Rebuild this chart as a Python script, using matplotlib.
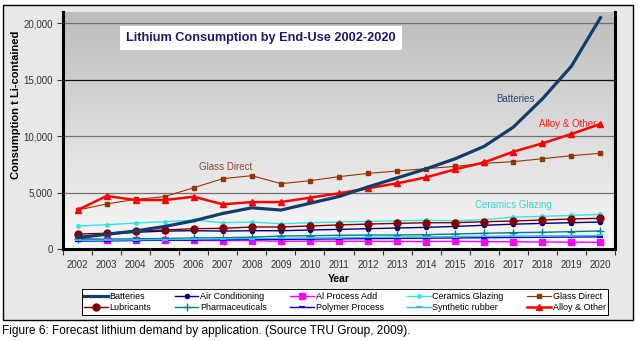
import numpy as np
import matplotlib.pyplot as plt
from matplotlib.patches import Rectangle
from matplotlib.colors import LinearSegmentedColormap
from matplotlib.ticker import FuncFormatter, FixedLocator

plt.rcParams['font.family'] = ['Liberation Sans', 'DejaVu Sans']

years = list(range(2002, 2021))

batteries = [1000, 1300, 1600, 2000, 2500, 3150, 3650, 3450, 4050, 4650,
             5500, 6300, 7100, 8000, 9100, 10800, 13300, 16200, 20500]
air_conditioning = [1100, 1300, 1480, 1590, 1620, 1590, 1620, 1620, 1680, 1740,
                    1800, 1860, 1920, 2000, 2100, 2200, 2270, 2330, 2390]
al_process = [950, 800, 800, 780, 760, 750, 750, 680, 700, 690,
              680, 670, 660, 680, 650, 640, 620, 610, 590]
ceramics = [2040, 2150, 2300, 2420, 2570, 2330, 2390, 2240, 2330, 2390,
            2450, 2500, 2550, 2500, 2600, 2830, 2890, 2980, 3070]
glass_direct = [3450, 3990, 4400, 4640, 5430, 6230, 6500, 5790, 6050, 6410,
                6700, 6910, 7120, 7320, 7590, 7740, 8000, 8270, 8480]
lubricants = [1330, 1390, 1600, 1680, 1800, 1830, 1950, 1950, 2040, 2130,
              2210, 2270, 2330, 2330, 2420, 2480, 2570, 2660, 2720]
pharmaceuticals = [860, 880, 900, 930, 980, 1000, 1050, 1150, 1180, 1210,
                   1240, 1240, 1270, 1330, 1390, 1450, 1480, 1540, 1600]
polymer = [700, 720, 750, 780, 800, 820, 850, 850, 870, 900,
           920, 940, 960, 980, 1000, 1020, 1040, 1060, 1080]
synthetic_rubber = [760, 780, 810, 840, 870, 900, 930, 950, 980, 1000,
                    1030, 1050, 1080, 1100, 1120, 1140, 1160, 1180, 1200]
alloy_other = [3450, 4700, 4340, 4340, 4630, 3960, 4160, 4160, 4550, 4930,
               5380, 5820, 6350, 7060, 7680, 8620, 9360, 10190, 11080]

fig = plt.figure(figsize=(6.38, 3.41), dpi=100)
W, H = 638, 341

# grey panel behind chart + legend
panel = Rectangle((3 / W, 1 - 320 / H), 630 / W, 315 / H,
                  transform=fig.transFigure, facecolor='#e8e8e8',
                  edgecolor='black', linewidth=1.0, zorder=-10)
fig.add_artist(panel)

ax = fig.add_axes([63 / W, 1 - 249 / H, (615 - 63) / W, (249 - 12) / H])
ax.set_xlim(2001.5, 2020.5)
ax.set_ylim(0, 21000)

# vertical grey gradient in plot area
grad = np.linspace(0, 1, 256).reshape(-1, 1)
ax.imshow(grad, extent=[2001.5, 2020.5, 0, 21000], aspect='auto',
          cmap=LinearSegmentedColormap.from_list('bg', ['#f9f9f9', '#bdbdbd']),
          origin='lower', zorder=0)

for y, c in [(5000, '#707070'), (10000, '#707070'), (15000, '#101010'), (20000, '#707070')]:
    ax.axhline(y, color=c, lw=0.9, zorder=1)

series = [
    ('Batteries', batteries, dict(color='#123d6a', lw=2.3, marker=None)),
    ('Air Conditioning', air_conditioning, dict(color='#000080', lw=1.0, marker='o', ms=3)),
    ('Al Process Add', al_process, dict(color='#ff00ff', lw=1.0, marker='s', ms=5)),
    ('Ceramics Glazing', ceramics, dict(color='#33e6e6', lw=1.0, marker='o', ms=2.5)),
    ('Glass Direct', glass_direct, dict(color='#993300', lw=0.8, marker='s', ms=3.5)),
    ('Lubricants', lubricants, dict(color='#800000', lw=1.0, marker='o', ms=5)),
    ('Pharmaceuticals', pharmaceuticals, dict(color='#008080', lw=1.0, marker='+', ms=6, mew=1.0)),
    ('Polymer Process', polymer, dict(color='#0000cc', lw=1.0, marker='_', ms=5, mew=1.5)),
    ('Synthetic rubber', synthetic_rubber, dict(color='#33bbee', lw=1.0, marker='_', ms=5, mew=1.5)),
    ('Alloy & Other', alloy_other, dict(color='#ff0000', lw=1.8, marker='^', ms=5)),
]

order = [1, 2, 3, 4, 5, 6, 7, 8, 9, 0]
handles = {}
for i in order:
    name, vals, st = series[i]
    h, = ax.plot(years, vals, label=name, zorder=3 + (i == 0) + (i == 9), **st)
    handles[name] = h

ax.spines['top'].set_visible(False)
for side in ['left', 'bottom', 'right']:
    ax.spines[side].set_linewidth(2.2)
    ax.spines[side].set_color('black')

ax.yaxis.set_major_locator(FixedLocator([0, 5000, 10000, 15000, 20000]))
ax.yaxis.set_major_formatter(FuncFormatter(lambda v, p: f'{int(v):,}'))
ax.set_xticks(years)
ax.set_xticks([y + 0.5 for y in range(2001, 2021)], minor=True)
ax.tick_params(axis='x', which='major', length=0, labelsize=7, colors='#333333', pad=8)
ax.tick_params(axis='x', which='minor', length=4, width=0.8, color='#333333', direction='out')
ax.tick_params(axis='y', labelsize=7, colors='#333333', length=4, width=0.8, direction='out')

ax.set_xlabel('Year', fontsize=7.5, fontweight='bold', labelpad=3)
ax.set_ylabel('Consumption t Li-contained', fontsize=8, fontweight='bold')
ax.yaxis.set_label_coords(-0.076, 0.608)

ax.text(0.359, 0.89, 'Lithium Consumption by End-Use 2002-2020', transform=ax.transAxes,
        fontsize=9.2, fontweight='bold', color='#1a1a6e', ha='center', va='center',
        bbox=dict(facecolor='white', edgecolor='none', pad=4.5), zorder=6)

ax.text(2007.1, 7300, 'Glass Direct', color='#8b4a2b', fontsize=7, ha='center', va='center', zorder=6)
ax.text(2017.75, 13300, 'Batteries', color='#2b4a6e', fontsize=7, ha='right', va='center', zorder=6)
ax.text(2019.85, 11080, 'Alloy & Other', color='#ff2020', fontsize=7, ha='right', va='center', zorder=6)
ax.text(2017.0, 3900, 'Ceramics Glazing', color='#33d6d6', fontsize=7, ha='center', va='center', zorder=6)

names = ['Batteries', 'Lubricants', 'Air Conditioning', 'Pharmaceuticals',
         'Al Process Add', 'Polymer Process', 'Ceramics Glazing', 'Synthetic rubber',
         'Glass Direct', 'Alloy & Other']
leg = fig.legend([handles[n] for n in names], names, loc='center', ncol=5,
                 bbox_to_anchor=(345 / W, 1 - 302 / H), fontsize=6.5, frameon=True,
                 fancybox=False, edgecolor='black', facecolor='white', framealpha=1,
                 handlelength=2.6, handletextpad=0.2, columnspacing=2.6,
                 labelspacing=0.25, borderpad=0.3)
leg.get_frame().set_linewidth(0.7)

fig.text(2 / W, 1 - 331 / H, 'Figure 6: Forecast lithium demand by application. (Source TRU Group, 2009).',
         fontsize=8.6, ha='left', va='center')

fig.savefig('out.png', dpi=100)
